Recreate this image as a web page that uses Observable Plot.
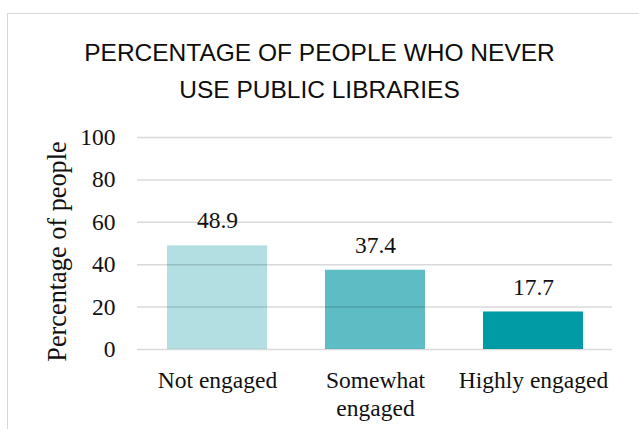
<!DOCTYPE html>
<html>
<head>
<meta charset="utf-8">
<script src="https://cdn.jsdelivr.net/npm/d3@7"></script>
<script src="https://cdn.jsdelivr.net/npm/@observablehq/plot@0.6"></script>
<style>
  html, body { margin: 0; padding: 0; background: #fff; }
  #wrap { position: relative; width: 639px; height: 429px; overflow: hidden; }
  #frame { position: absolute; left: 7px; top: 13px; width: 700px; height: 500px; border: 1.5px solid #d9d9d9; box-sizing: border-box; pointer-events: none; }
  #title { position: relative; height: 110px; box-sizing: border-box; padding-top: 33.5px; text-align: center; font-family: "Liberation Sans", Arial, sans-serif; font-size: 24.5px; line-height: 37px; color: #0d0d0d; }
  #title div { white-space: nowrap; }
  #chart svg { display: block; overflow: visible; }
  #chart svg text { font-family: 'Liberation Serif', 'Times New Roman', serif; font-variant: normal; }
</style>
</head>
<body>
<div id="wrap">
  <div id="frame"></div>
  <div id="title"><div>PERCENTAGE OF PEOPLE WHO NEVER</div><div>USE PUBLIC LIBRARIES</div></div>
  <div id="chart"></div>
</div>
<script>
const categories = ["Not engaged", "Somewhat engaged", "Highly engaged"];
const tickLabels = ["Not engaged", "Somewhat\nengaged", "Highly engaged"];
const values = [48.9, 37.4, 17.7];
const colors = ["#b3dfe3", "#5dbcc4", "#009ba5"];
const yTicks = [0, 20, 40, 60, 80, 100];
const yLabel = "Percentage of people";

const data = categories.map((c, i) => ({category: c, value: values[i], color: colors[i]}));
const serif = "'Liberation Serif', 'Times New Roman', serif";

const plot = Plot.plot({
  width: 639,
  height: 319,
  marginLeft: 137,
  marginRight: 27,
  marginTop: 27,
  marginBottom: 80,
  style: {fontFamily: serif, fontSize: "23.5px", color: "#111", background: "transparent", overflow: "visible"},
  x: {domain: categories, paddingInner: 0.368, paddingOuter: 0.184, label: null},
  y: {domain: [0, 100], label: null},
  marks: [
    Plot.barY(data, {x: "category", y: "value", fill: "color"}),
    Plot.ruleY(yTicks, {stroke: "#000", strokeOpacity: 0.15, strokeWidth: 1.5}),
    Plot.axisY({ticks: yTicks, tickSize: 0, tickPadding: 22, fontSize: 23.5, fontFamily: serif, fontVariant: "normal", label: null}),
    Plot.axisX({tickSize: 0, tickPadding: 18, fontSize: 23.5, fontFamily: serif, lineHeight: 1.2, label: null,
      tickFormat: (d) => tickLabels[categories.indexOf(d)]}),
    Plot.text(data, {x: "category", y: "value", text: (d) => d.value.toFixed(1), dy: -25, fontSize: 23.5, fontFamily: serif, fontVariant: "normal", fill: "#111"}),
    Plot.text([yLabel], {frameAnchor: "left", text: (d) => d, rotate: -90, textAnchor: "middle", dx: -80, dy: 8, fontSize: 26.3, fontFamily: serif, fill: "#111"})
  ]
});
document.getElementById("chart").appendChild(plot);
</script>
</body>
</html>
